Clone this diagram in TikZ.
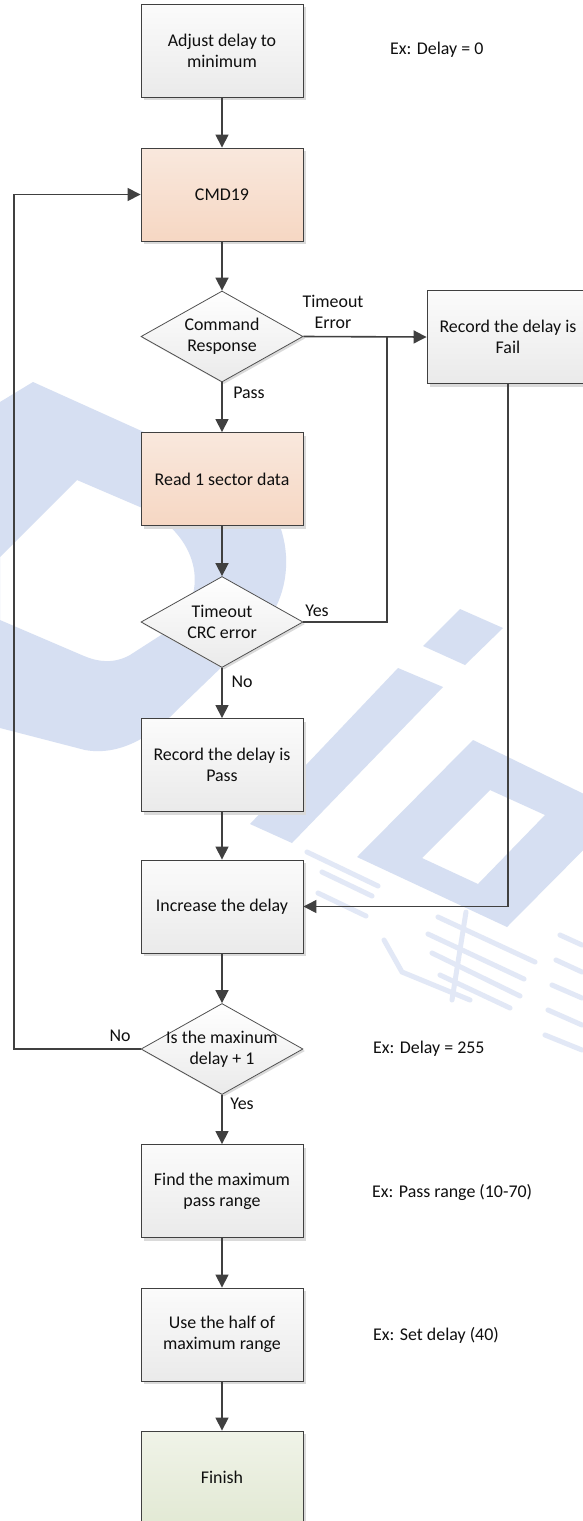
\documentclass[tikz,border=0pt]{standalone}
\usepackage{fontspec}
\setmainfont{Carlito}
\usetikzlibrary{shapes.geometric,arrows.meta,shadows}

\definecolor{linec}{RGB}{64,64,64}
\definecolor{diaborder}{RGB}{80,80,80}
\definecolor{shadowc}{RGB}{218,218,218}
\definecolor{greytop}{RGB}{251,251,251}
\definecolor{greybot}{RGB}{234,234,234}
\definecolor{orangetop}{RGB}{249,232,221}
\definecolor{orangebot}{RGB}{246,215,195}
\definecolor{greentop}{RGB}{240,243,232}
\definecolor{greenbot}{RGB}{226,233,212}
\definecolor{wmark}{RGB}{214,223,242}
\definecolor{wmlight}{RGB}{226,232,246}
\definecolor{textc}{RGB}{15,15,15}

\tikzset{
  basebox/.style={rectangle, draw=linec, line width=0.9pt,
    minimum width=162pt, minimum height=93pt, inner sep=2pt,
    align=center, text=textc, font=\fontsize{17.9}{20.7}\selectfont,
    drop shadow={shadow xshift=3pt, shadow yshift=-3pt, fill=shadowc, opacity=1}},
  gbox/.style={basebox, top color=greytop, bottom color=greybot},
  obox/.style={basebox, top color=orangetop, bottom color=orangebot},
  fbox/.style={basebox, top color=greentop, bottom color=greenbot},
  dia/.style={diamond, draw=diaborder, line width=0.8pt,
    minimum width=162pt, minimum height=91pt, inner sep=0pt,
    top color=white, bottom color=greybot,
    drop shadow={shadow xshift=2pt, shadow yshift=-2pt, fill=shadowc, opacity=1}},
  txt/.style={align=center, inner sep=0pt, text=textc,
    font=\fontsize{17.9}{20.7}\selectfont},
  note/.style={txt, anchor=west},
  arr/.style={draw=linec, line width=1.6pt, -{Triangle[length=13pt,width=13pt]}},
  conn/.style={draw=linec, line width=1.6pt},
  thinarr/.style={draw=linec, line width=1.3pt, -{Triangle[length=13pt,width=13pt]}},
  wm/.style={fill=wmark, draw=none},
  wmstroke/.style={draw=wmlight, line width=5pt, line cap=round},
}

\begin{document}
\begin{tikzpicture}[x=1pt,y=-1pt]
\useasboundingbox (0,0) rectangle (582,1521);
\fill[white] (0,0) rectangle (582,1521);

% faint background logo
\begin{scope}
  % large rounded band on the left
  \fill[wm, even odd rule]
    (0,402) -- (33,382) -- (228,470)
      .. controls (292,498) and (305,585) .. (258,632)
      -- (175,712) .. controls (150,738) and (118,756) .. (85,750)
      -- (0,728) -- cycle
    (0,557) -- (77,480) -- (140,507)
      .. controls (198,533) and (212,592) .. (172,628)
      -- (130,655) .. controls (114,664) and (98,662) .. (84,656)
      -- (0,620) -- cycle;
  % slanted bars
  \fill[wm] (460,609) -- (503,628) -- (465,665) -- (423,646) -- cycle;
  \fill[wm] (398,668) -- (443,687) -- (292,843) -- (250,824) -- cycle;
  \fill[wm, even odd rule]
    (473,740) -- (621,812) -- (507,927) -- (357,857) -- cycle
    (490,790) -- (545,815) -- (478,884) -- (422,858) -- cycle;
  % character strokes
  \draw[wmstroke] (307,852) -- (378,886);
  \draw[wmstroke] (322,872) -- (372,896);
  \draw[wmstroke] (318,893) -- (366,916);
  \draw[wmstroke] (438,917) -- (535,962);
  \draw[wmstroke] (428,934) -- (524,979);
  \draw[wmstroke] (432,953) -- (520,996);
  \draw[wmstroke] (440,975) -- (510,1008);
  \draw[wmstroke] (466,912) -- (452,1000);
  \draw[wmstroke] (384,940) -- (402,972) -- (470,1000);
  \draw[wmstroke] (560,935) -- (582,945);
  \draw[wmstroke] (556,960) -- (582,972);
  \draw[wmstroke] (552,985) -- (582,998);
  \draw[wmstroke] (548,1010) -- (582,1025);
  \draw[wmstroke] (545,1035) -- (582,1050);
\end{scope}

% process steps
\node[gbox] (b1) at (222,50.5) {Adjust delay to\\minimum};
\node[obox] (b2) at (222,194.5) {CMD19};
\node[dia]  (d1) at (222,336.5) {};
\node[txt]  (d1t) at (d1.center) {Command\\Response};
\node[gbox] (fail) at (508,337) {Record the delay is\\Fail};
\node[obox] (b3) at (222,479) {Read 1 sector data};
\node[dia]  (d2) at (222,622) {};
\node[txt]  (d2t) at (d2.center) {Timeout\\CRC error};
\node[gbox] (b4) at (222,765) {Record the delay is\\Pass};
\node[gbox] (b5) at (222,906.5) {Increase the delay};
\node[dia]  (d3) at (222,1049) {};
\node[txt]  (d3t) at (d3.center) {Is the maxinum\\delay + 1};
\node[gbox] (b6) at (222,1191) {Find the maximum\\pass range};
\node[gbox] (b7) at (222,1334.5) {Use the half of\\maximum range};
\node[fbox] (b8) at (222,1477.5) {Finish};

% side notes
\node[note] (n1) at (390,50) {Ex: Delay = 0};
\node[note] (n2) at (373,1049) {Ex: Delay = 255};
\node[note] (n3) at (372,1192) {Ex: Pass range (10-70)};
\node[note] (n4) at (373,1335) {Ex: Set delay (40)};

% helper points for the routed lines
\coordinate (jx) at (387,337);
\coordinate (lx) at (14,0);

% main flow
\draw[arr] (b1.south) -- (b2.north);
\draw[arr] (b2.south) -- (d1.north);
\draw[arr] (d1.south) -- (b3.north);
\draw[arr] (b3.south) -- (d2.north);
\draw[arr] (d2.south) -- (b4.north);
\draw[arr] (b4.south) -- (b5.north);
\draw[arr] (b5.south) -- (d3.north);
\draw[arr] (d3.south) -- (b6.north);
\draw[arr] (b6.south) -- (b7.north);
\draw[arr] (b7.south) -- (b8.north);

% failure branches
\draw[arr] (d1.east) -- (fail.west);
\draw[conn] (d2.east) -| (jx);
\draw[thinarr] (fail.south) |- (b5.east);

% loop back
\draw[arr] (d3.west) -- (d3.west -| lx) |- (b2.west);

% branch labels
\node[txt] (l1) at (333,312) {Timeout\\Error};
\node[txt] (l2) at (249,393) {Pass};
\node[txt] (l3) at (317,611) {Yes};
\node[txt] (l4) at (242,682) {No};
\node[txt] (l5) at (120,1036) {No};
\node[txt] (l6) at (242,1104) {Yes};
\end{tikzpicture}
\end{document}
